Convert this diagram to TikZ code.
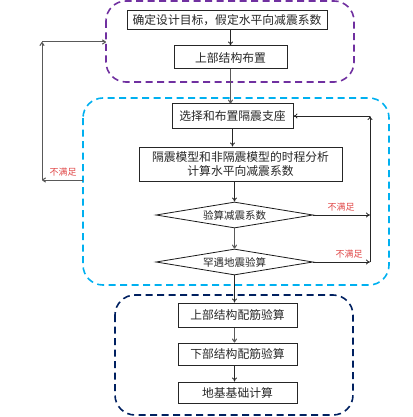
\documentclass[tikz,border=0pt]{standalone}
\usepackage{fontspec}
\setmainfont{Noto Sans CJK SC}
\usetikzlibrary{arrows.meta,shapes.geometric,calc}
\definecolor{purp}{HTML}{7030A0}
\definecolor{cyanb}{HTML}{00B0F0}
\definecolor{navyb}{HTML}{002060}
\definecolor{redl}{HTML}{E04848}
\begin{document}
\begin{tikzpicture}[x=1pt,y=-1pt,
  box/.style={draw=black!85,line width=1pt,rectangle,inner sep=0pt,font=\fontsize{11.8}{14.5}\selectfont,text=black!85,align=center},
  dia/.style={draw=black!90,line width=0.8pt,diamond,aspect=6,inner sep=0pt,font=\fontsize{10.5}{12}\selectfont,text=black!85},
  grp/.style={dashed,line width=1.6pt,dash pattern=on 7pt off 4.5pt,rounded corners=20pt},
  arr/.style={-{To[length=4pt,width=5pt]},line width=0.8pt,draw=black!85},
  garr/.style={-{To[length=4pt,width=5pt]},line width=1pt,draw=black!65},
  lab/.style={text=redl,font=\fontsize{9}{10}\selectfont,inner sep=0pt}]
\useasboundingbox (0,0) rectangle (412,417);
% group boxes
\draw[grp,draw=purp] (106,1) rectangle (354,82);
\draw[grp,draw=cyanb] (83,98) rectangle (389,285);
\draw[grp,draw=navyb] (115,295) rectangle (353,415);
% nodes
\node[box,minimum width=200pt,minimum height=19pt] (b1) at (227,20.5) {确定设计目标，假定水平向减震系数};
\node[box,minimum width=113pt,minimum height=23pt] (b2) at (230.5,57.5) {上部结构布置};
\node[box,minimum width=121pt,minimum height=24pt] (b3) at (232.5,116) {选择和布置隔震支座};
\node[box,minimum width=203pt,minimum height=34pt] (b4) at (240.5,164) {隔震模型和非隔震模型的时程分析\\计算水平向减震系数};
\node[dia,minimum width=157pt,minimum height=26pt] (d1) at (234.5,215) {验算减震系数};
\node[dia,minimum width=157pt,minimum height=26pt] (d2) at (234.5,262) {罕遇地震验算};
\node[box,minimum width=119pt,minimum height=24pt] (b5) at (237.5,315) {上部结构配筋验算};
\node[box,minimum width=119pt,minimum height=22pt] (b6) at (237.5,354) {下部结构配筋验算};
\node[box,minimum width=119pt,minimum height=21pt] (b7) at (237.5,392.5) {地基基础计算};
% loop coordinates
\coordinate (Lc) at (83,180);
\coordinate (Lb) at (42,180);
\coordinate (Lt) at (42,42);
\coordinate (Lp) at (106,42);
\coordinate (R) at (370,116);
% main flow
\draw[arr] (b1.south -| b2) -- (b2.north);
\draw[garr] (b2.south) -- (b2.south |- b3.north);
\draw[arr] (b3.south) -- (b3.south |- b4.north);
\draw[arr] (b4.south -| d1) -- (d1.north);
\draw[garr] (d1.south) -- (d2.north);
\draw[arr] (d2.south) -- (d2.south |- b5.north);
\draw[garr] (b5.south -| d2) -- (d2 |- b6.north);
\draw[arr] (b6.south -| d2) -- (d2 |- b7.north);
% left loop
\draw[garr] (Lc) -- (Lb);
\draw[garr] (Lb) -- (Lt);
\draw[garr] (Lt) -- (Lp);
\node[lab,anchor=south] at (63,176) {不满足};
% right loop
\draw[arr] (d1.east) -- (d1.east -| R);
\draw[arr] (d2.east) -- (d2.east -| R);
\draw[arr] (d2.east -| R) -- (R);
\draw[arr] (R) -- (b3.east);
\node[lab,anchor=south] at (341,211) {不满足};
\node[lab,anchor=south] at (349,258) {不满足};
\end{tikzpicture}
\end{document}
